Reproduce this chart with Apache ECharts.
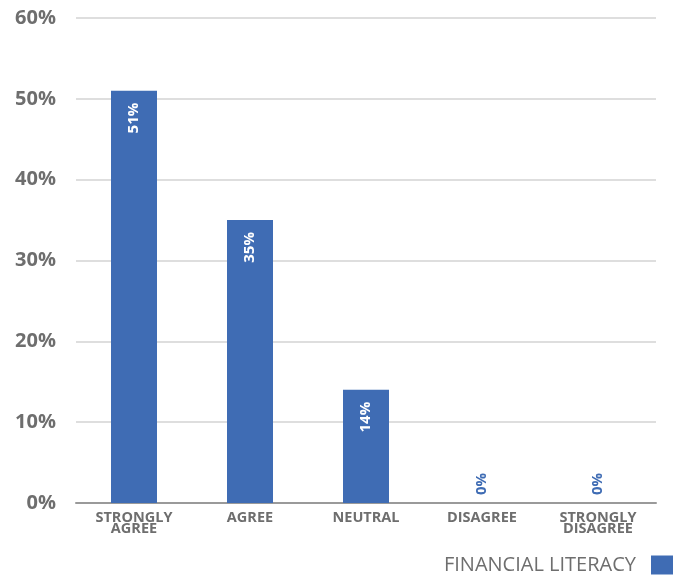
<!DOCTYPE html>
<html>
<head>
<meta charset="utf-8">
<script src="https://cdn.jsdelivr.net/npm/echarts@6/dist/echarts.min.js"></script>
<style>
  html, body { margin: 0; padding: 0; background: #ffffff; }
  #chart { width: 678px; height: 575px; }
</style>
</head>
<body>
<div id="chart"></div>
<script>
// Survey responses, share of respondents (%)
const categories = ['STRONGLY\nAGREE', 'AGREE', 'NEUTRAL', 'DISAGREE', 'STRONGLY\nDISAGREE'];
const seriesName = 'FINANCIAL LITERACY';
const values = [51, 35, 14, 0, 0];
const yTicks = [0, 10, 20, 30, 40, 50, 60];

const BLUE = '#3f6cb4';
const GREY = '#6e6e6e';
const FONT = '"Open Sans", "DejaVu Sans", sans-serif';

// Labels sit inside the top of each bar; empty categories get a blue label above the axis
const barData = values.map(v => {
  if (v > 0) {
    return {
      value: v,
      label: {
        position: 'insideTop', distance: 12, rotate: 90,
        align: 'right', verticalAlign: 'middle', color: '#ffffff'
      }
    };
  }
  return {
    value: v,
    label: {
      position: 'top', distance: 8, rotate: 90,
      align: 'left', verticalAlign: 'middle', color: BLUE
    }
  };
});

const chart = echarts.init(document.getElementById('chart'));
chart.setOption({
  animation: false,
  grid: { left: 76, right: 22, top: 18, bottom: 72, containLabel: false },
  legend: {
    data: [seriesName],
    right: 0, bottom: 0, padding: [0, 5, 0, 0],
    align: 'right',
    icon: 'rect', itemWidth: 22, itemHeight: 19, itemGap: 10,
    textStyle: {
      color: GREY, fontFamily: FONT, fontSize: 20, fontWeight: 'normal',
      padding: [0, 10, 0, 0]
    }
  },
  xAxis: {
    type: 'category',
    data: categories,
    axisLine: { lineStyle: { color: '#9a9a9a', width: 2 } },
    axisTick: { show: false },
    axisLabel: {
      interval: 0, color: GREY, fontFamily: FONT, fontWeight: 'bold',
      fontSize: 14.5, lineHeight: 11.5, margin: 9
    }
  },
  yAxis: {
    type: 'value',
    min: yTicks[0], max: yTicks[yTicks.length - 1], interval: 10,
    axisLine: { show: false },
    axisTick: { show: false },
    splitLine: { lineStyle: { color: '#d3d3d3', width: 1.5 } },
    axisLabel: {
      color: GREY, fontFamily: FONT, fontWeight: 'bold', fontSize: 20, margin: 20,
      formatter: v => v + '%'
    }
  },
  series: [{
    name: seriesName,
    type: 'bar',
    data: barData,
    barWidth: 46,
    itemStyle: { color: BLUE },
    label: {
      show: true, fontFamily: FONT, fontWeight: 'bold', fontSize: 15,
      formatter: p => p.value + '%'
    }
  }]
});
</script>
</body>
</html>
